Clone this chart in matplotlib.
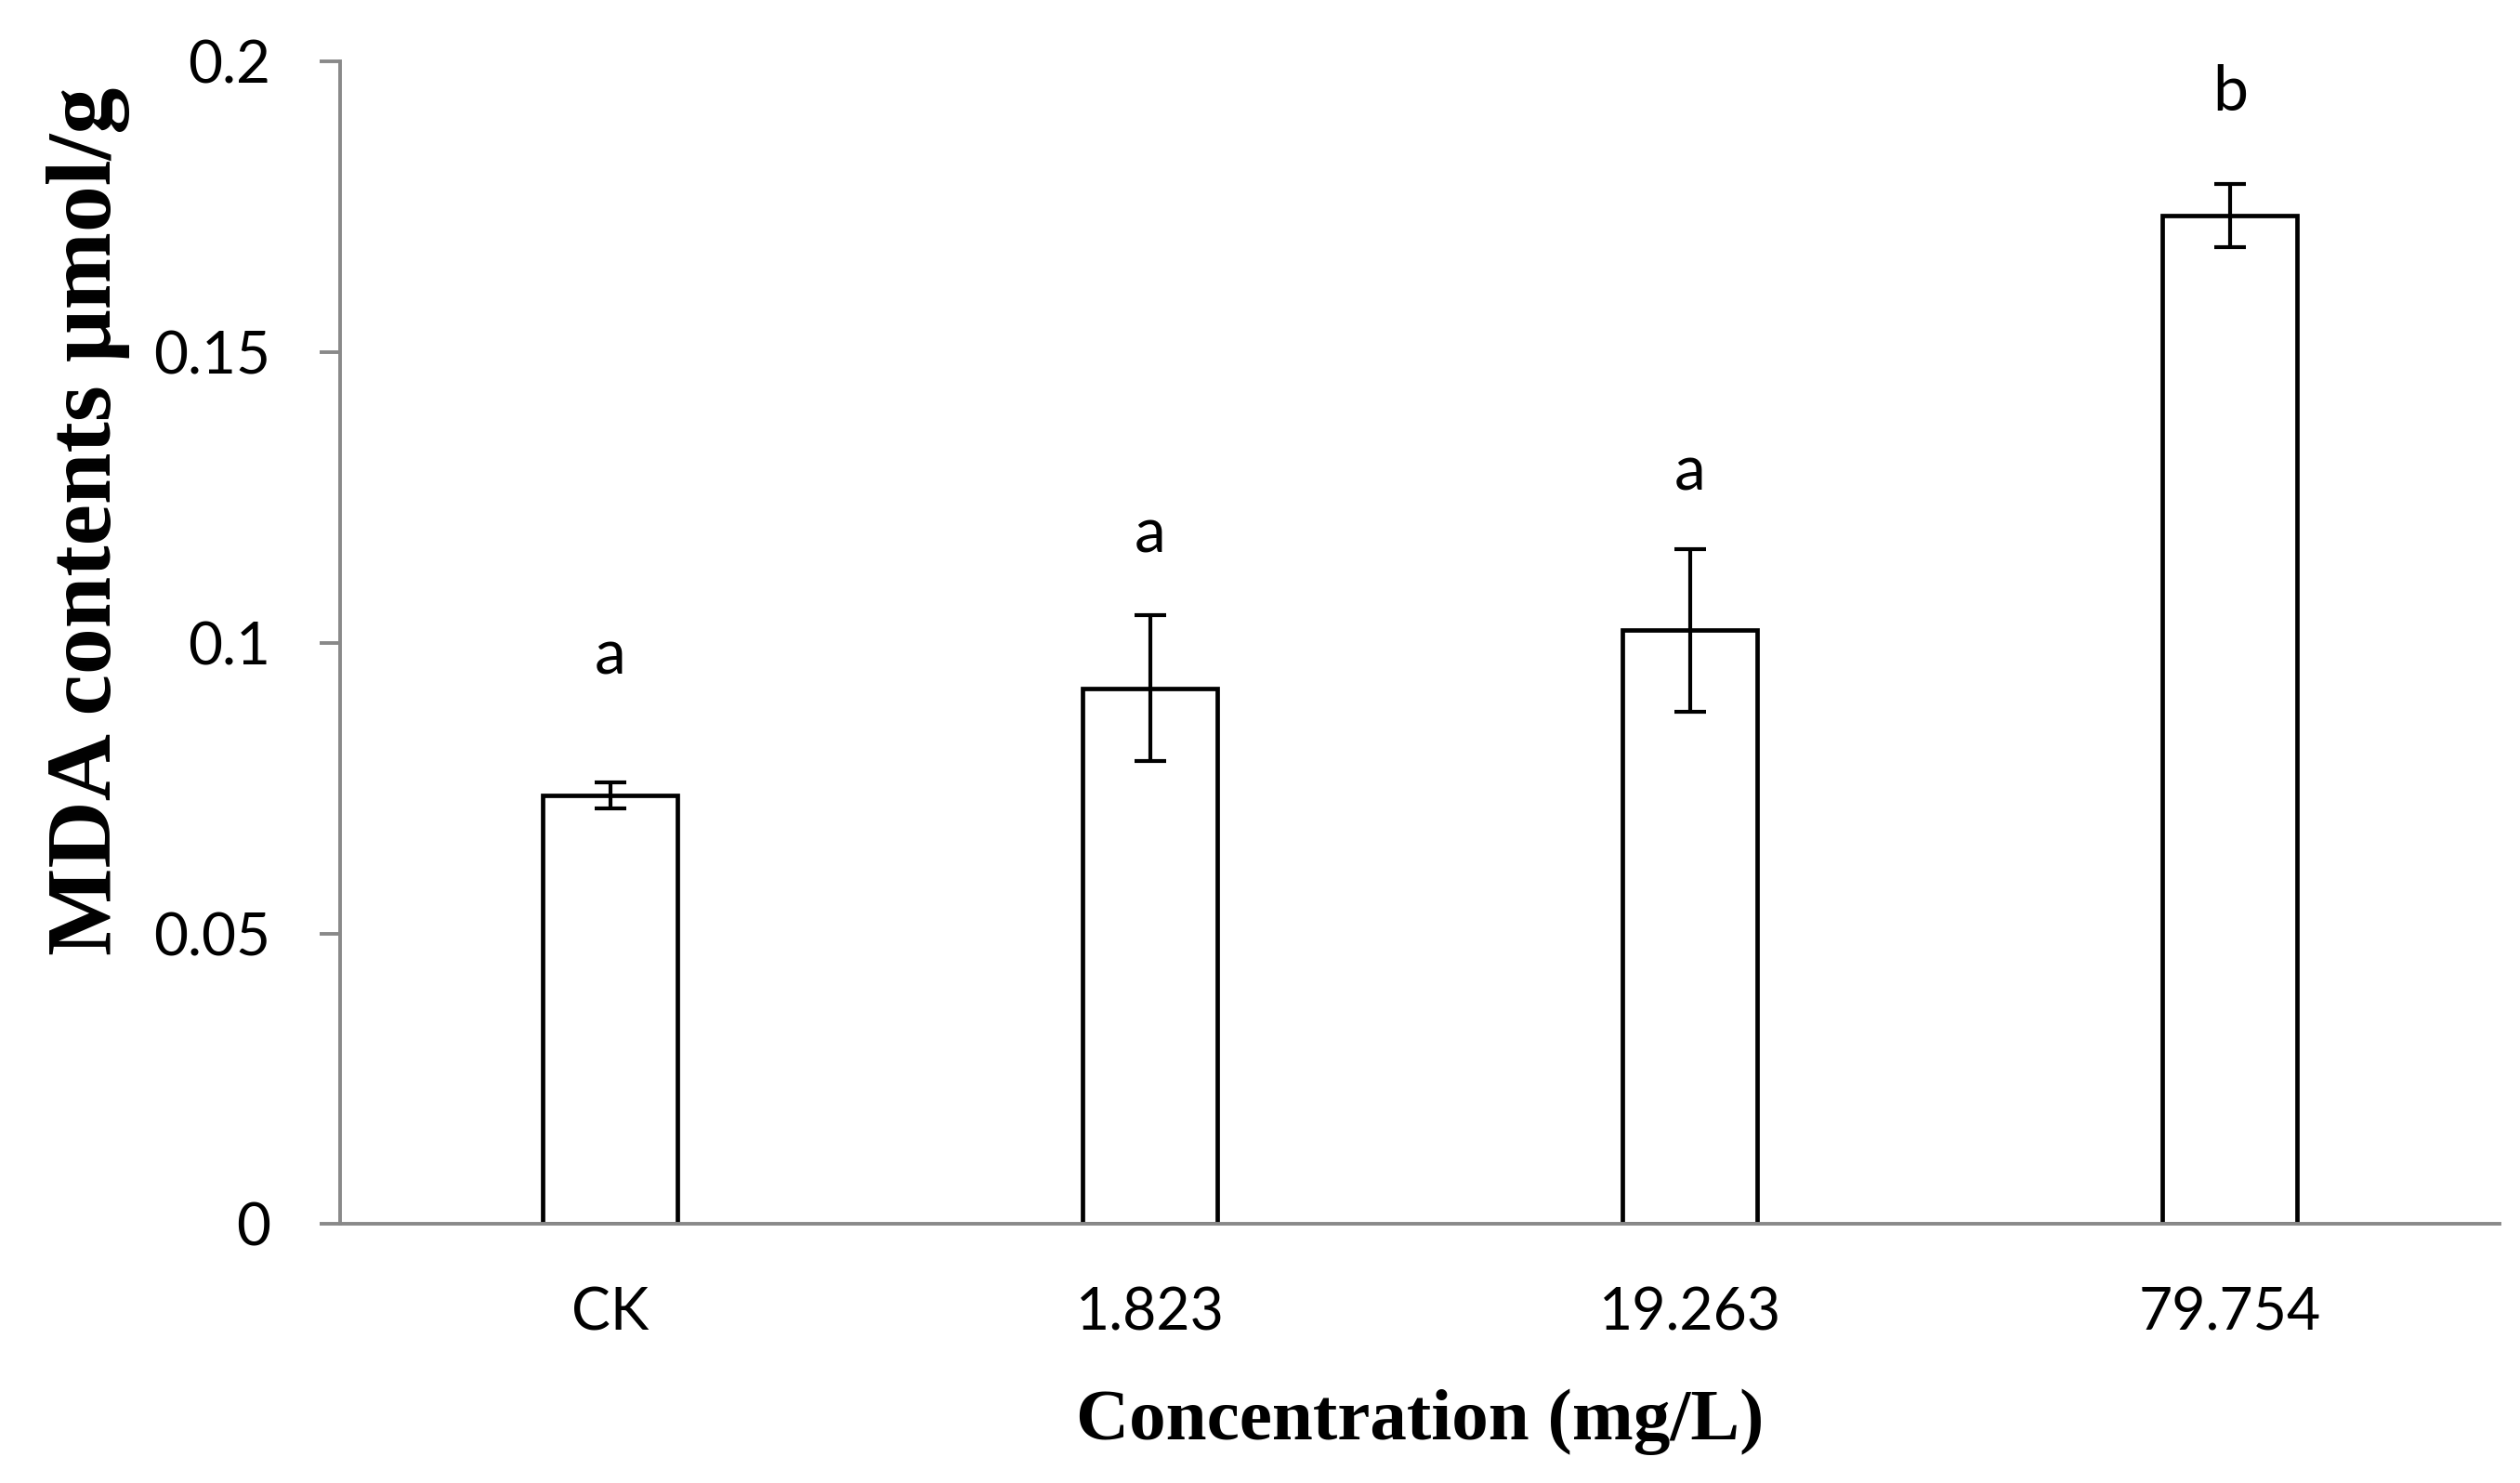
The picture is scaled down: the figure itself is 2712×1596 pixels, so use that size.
import matplotlib
matplotlib.use("Agg")
import matplotlib.pyplot as plt
import numpy as np

categories = ["CK", "1.823", "19.263", "79.754"]
mda = [0.0738, 0.0922, 0.1022, 0.1735]
err = [0.0022, 0.0125, 0.014, 0.0055]
letters = ["a", "a", "a", "b"]
letter_y = [0.0947, 0.1155, 0.1262, 0.1915]
yticks = [0, 0.05, 0.1, 0.15, 0.2]
ytick_labels = ["0", "0.05", "0.1", "0.15", "0.2"]

grey = "#898989"

fig = plt.figure(figsize=(27.12, 15.96), dpi=100)
ax = fig.add_axes([0.135, 0.1745, 0.857, 0.784])

x = np.arange(len(categories))
ax.bar(x, mda, width=0.25, color="white", edgecolor="black", linewidth=3.4, zorder=2)
ax.errorbar(x, mda, yerr=err, fmt="none", ecolor="black", elinewidth=3.0,
            capsize=12, capthick=3.0, zorder=3)

for xi, lab, ly in zip(x, letters, letter_y):
    ax.text(xi, ly, lab, ha="center", va="baseline", fontsize=49, family="Lato")

ax.set_xlim(-0.5, len(categories) - 0.5)
ax.set_ylim(0, 0.2)
ax.set_yticks(yticks)
ax.set_yticklabels(ytick_labels, family="Lato", fontsize=46)
ax.set_xticks(x)
ax.set_xticklabels(categories, family="Lato", fontsize=45)

for s in ["top", "right"]:
    ax.spines[s].set_visible(False)
for s in ["left", "bottom"]:
    ax.spines[s].set_color(grey)
    ax.spines[s].set_linewidth(2.8)
    ax.spines[s].set_zorder(4)

ax.tick_params(axis="y", direction="out", length=16, width=2.8, color=grey, pad=38)
ax.tick_params(axis="x", length=0, pad=48)

ax.set_xlabel("Concentration (mg/L)", family="Liberation Serif", fontweight="bold",
              fontsize=57, labelpad=38)
fig.text(95 / 2712, 1 - 561 / 1596, "MDA contents μmol/g", rotation=90,
         ha="center", va="center", family="Liberation Serif", fontweight="bold",
         fontsize=72)

fig.savefig("out.png", dpi=100)
